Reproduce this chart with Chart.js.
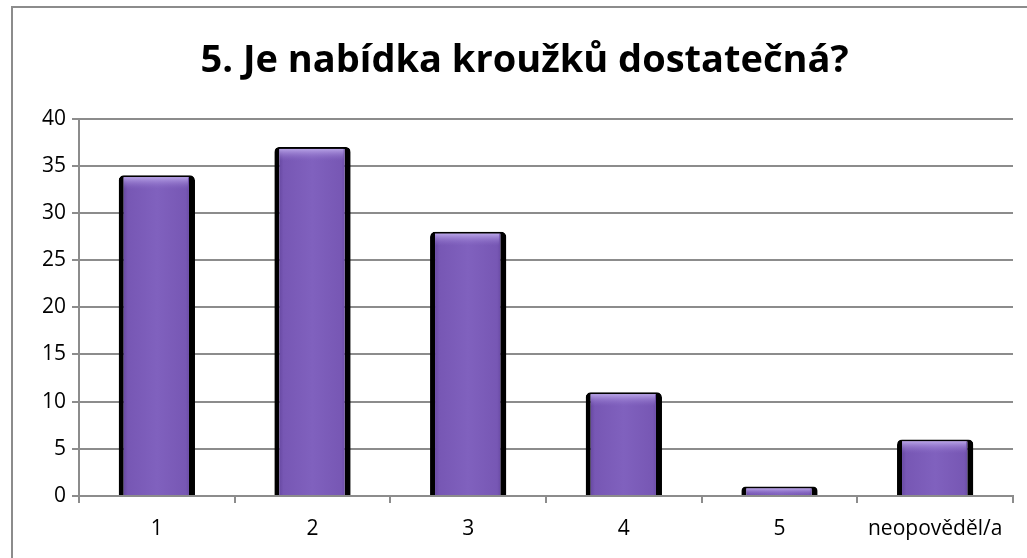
<!DOCTYPE html>
<html>
<head>
<meta charset="utf-8">
<script src="https://cdn.jsdelivr.net/npm/chart.js@4.4.0/dist/chart.umd.min.js"></script>
<style>
  body { margin: 0; background: #fff; }
  #wrap { width: 1027px; height: 558px; position: relative; }
</style>
</head>
<body>
<div id="wrap"><canvas id="barChart" width="1027" height="558"></canvas></div>
<script>
var categories = ['1', '2', '3', '4', '5', 'neopověděl/a'];
var answers = [34, 37, 28, 11, 1, 6];
var yTicks = [0, 5, 10, 15, 20, 25, 30, 35, 40];
var titleText = '5. Je nabídka kroužků dostatečná?';

// frame round the whole chart (left + top edges visible)
var framePlugin = {
  id: 'frame',
  beforeDraw: function (chart) {
    var ctx = chart.ctx;
    ctx.save();
    ctx.strokeStyle = '#8c8c8c';
    ctx.lineWidth = 2;
    ctx.beginPath();
    ctx.moveTo(12, 558);
    ctx.lineTo(12, 7);
    ctx.lineTo(1027, 7);
    ctx.stroke();
    ctx.restore();
  }
};

// highlight on top of each bar, a bit of bevel
var bevelPlugin = {
  id: 'bevel',
  afterDatasetsDraw: function (chart) {
    var ctx = chart.ctx;
    var meta = chart.getDatasetMeta(0);
    ctx.save();
    meta.data.forEach(function (bar) {
      var w = bar.width;
      var left = bar.x - w / 2 + 5;
      var right = bar.x + w / 2 - 7;
      var h = bar.base - bar.y;
      var capH = Math.min(12, h - 2);
      if (capH <= 0) return;
      var g = ctx.createLinearGradient(0, bar.y + 2, 0, bar.y + 2 + capH);
      g.addColorStop(0, 'rgba(190,170,235,0.9)');
      g.addColorStop(1, 'rgba(140,110,200,0)');
      ctx.fillStyle = g;
      ctx.fillRect(left, bar.y + 2, right - left, capH);
    });
    ctx.restore();
  }
};

var barCtx = document.getElementById('barChart');
var myBarChart = new Chart(barCtx, {
  type: 'bar',
  data: {
    labels: categories,
    datasets: [
      {
        label: 'odpovědi',
        data: answers,
        backgroundColor: function (c) {
          var chart = c.chart;
          var xs = chart.scales && chart.scales.x;
          if (!xs || !chart.chartArea || c.dataIndex === undefined) return '#7c5cb8';
          var cx = xs.getPixelForValue(c.dataIndex);
          var w = (chart.chartArea.right - chart.chartArea.left) / categories.length * 0.49;
          if (!isFinite(cx) || !isFinite(w)) return '#7c5cb8';
          var g = chart.ctx.createLinearGradient(cx - w / 2, 0, cx + w / 2, 0);
          g.addColorStop(0, '#563a8e');
          g.addColorStop(0.12, '#7757b4');
          g.addColorStop(0.5, '#8061be');
          g.addColorStop(0.88, '#7757b4');
          g.addColorStop(1, '#563a8e');
          return g;
        },
        borderColor: '#000000',
        borderWidth: { left: 5, right: 6, top: 2, bottom: 0 },
        borderSkipped: 'bottom',
        borderRadius: { topLeft: 5, topRight: 5 },
        categoryPercentage: 0.49,
        barPercentage: 1.0
      }
    ]
  },
  options: {
    responsive: false,
    animation: false,
    layout: { padding: { left: 36, right: 14, top: 14, bottom: 8 } },
    plugins: {
      legend: { display: false },
      tooltip: { enabled: false },
      title: {
        display: true,
        text: titleText,
        color: '#000',
        font: { family: 'Open Sans', size: 38, weight: 'bold' },
        padding: { top: 24, bottom: 35 }
      }
    },
    scales: {
      x: {
        afterFit: function (scale) { scale.height = 54; },
        grid: {
          offset: true,
          drawOnChartArea: false,
          color: '#8c8c8c',
          tickLength: 7,
          lineWidth: 2
        },
        border: { color: '#8c8c8c', width: 2 },
        ticks: { color: '#000', font: { family: 'Open Sans', size: 21 }, padding: 13 }
      },
      y: {
        min: 0,
        max: 40,
        afterBuildTicks: function (axis) {
          axis.ticks = yTicks.map(function (v) { return { value: v }; });
        },
        grid: { color: '#8c8c8c', lineWidth: 2, tickLength: 7 },
        border: { color: '#8c8c8c', width: 2 },
        ticks: { color: '#000', font: { family: 'Open Sans', size: 21 }, padding: 6 }
      }
    }
  },
  plugins: [framePlugin, bevelPlugin]
});
</script>
</body>
</html>
